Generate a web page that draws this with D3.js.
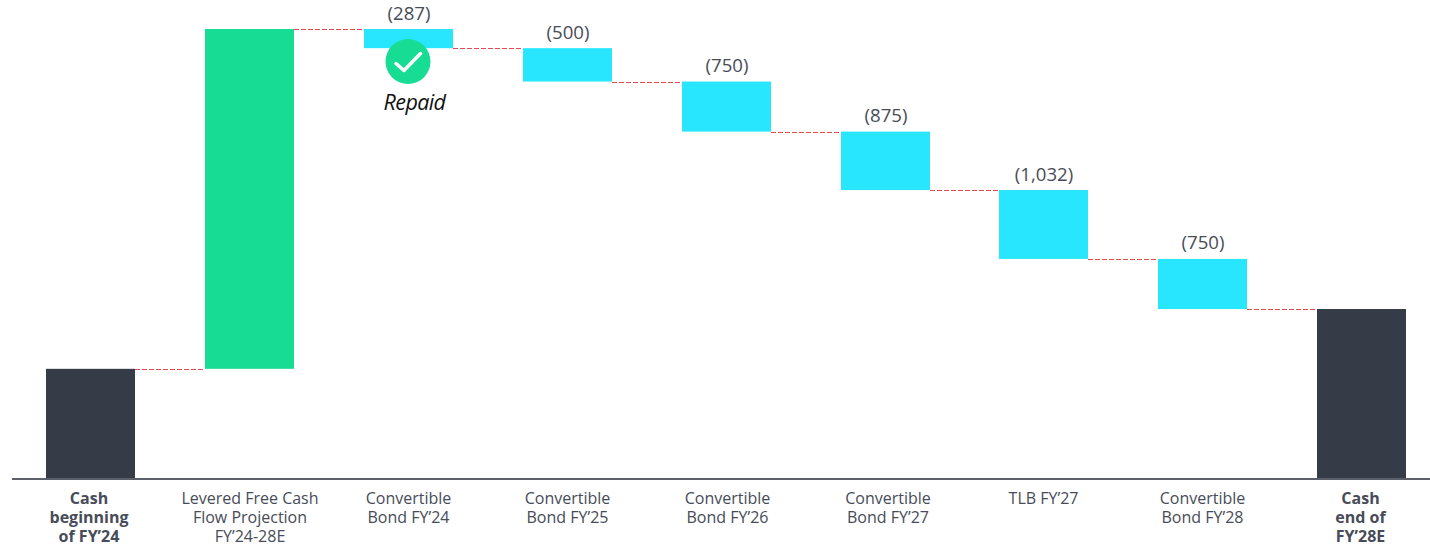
<!DOCTYPE html>
<html><head><meta charset="utf-8">
<script src="https://cdn.jsdelivr.net/npm/d3@7"></script>
<style>html,body{margin:0;padding:0;background:#fff;overflow:hidden}svg{display:block}text{font-family:"Open Sans",sans-serif}</style>
</head><body><svg id="c" width="1430" height="545"></svg>
<script>
const categories = [
  ["Cash","beginning","of FY’24"],
  ["Levered Free Cash","Flow Projection","FY’24-28E"],
  ["Convertible","Bond FY’24"],
  ["Convertible","Bond FY’25"],
  ["Convertible","Bond FY’26"],
  ["Convertible","Bond FY’27"],
  ["TLB FY’27"],
  ["Convertible","Bond FY’28"],
  ["Cash","end of","FY’28E"]
];
const deltas = [1650, 5090, -287, -500, -750, -875, -1032, -750, null];
const valueLabels = ["", "", "(287)", "(500)", "(750)", "(875)", "(1,032)", "(750)", ""];
const kinds = ["total", "up", "down", "down", "down", "down", "down", "down", "total"];
const boldCategories = [0, 8];
const colors = {total:"#353b47", up:"#16dd93", down:"#29e6ff"};
const repaidIndex = 2;

let run = 0;
const rows = deltas.map((d,i)=>{
  if (d === null) return {i, y0:0, y1:run};
  const r = kinds[i]==="total" ? {i,y0:0,y1:d} : {i,y0:run,y1:run+d};
  run = r.y1;
  return r;
});
const svg = d3.select("#c");
const x = d3.scaleBand().domain(d3.range(categories.length)).range([46.4,1406]).paddingInner(0.44).paddingOuter(0);
const y = d3.scaleLinear().domain([0,6740]).range([479,29]);
const bx0 = i => Math.round(x(i));
const bw = Math.round(x.bandwidth());
const labelNudge = i => [-1.5,0.5,0,0,1,2.5,0,0,-1][i];

// connectors
svg.append("g").selectAll("line").data(rows.slice(0,-1)).join("line")
  .attr("x1",d=>bx0(d.i)+bw)
  .attr("x2",d=>bx0(d.i+1))
  .attr("y1",d=>Math.round(y(d.y1))-0.5+1).attr("y2",d=>Math.round(y(d.y1))-0.5+1)
  .attr("stroke","#e04a52").attr("stroke-width",1).attr("stroke-dasharray","5 2");

// bars
svg.append("g").selectAll("rect").data(rows).join("rect")
  .attr("x",d=>bx0(d.i)).attr("width",bw)
  .attr("y",d=>y(Math.max(d.y0,d.y1)))
  .attr("height",d=>Math.abs(y(d.y0)-y(d.y1)))
  .attr("fill",d=>colors[kinds[d.i]]);

// baseline
svg.append("line").attr("x1",12).attr("x2",1430).attr("y1",y(0)).attr("y2",y(0))
  .attr("stroke","#5b606b").attr("stroke-width",2);

// category labels
const lab = svg.append("g").selectAll("text").data(categories).join("text")
  .attr("text-anchor","middle").attr("font-size",16)
  .attr("fill","#474c58")
  .attr("font-weight",(d,i)=>boldCategories.includes(i)?700:400);
lab.each(function(lines,i){
  d3.select(this).selectAll("tspan").data(lines).join("tspan")
    .attr("x",bx0(i)+bw/2+labelNudge(i))
    .attr("y",(l,j)=>504+j*19)
    .text(l=>l);
});

// value labels
svg.append("g").selectAll("text").data(rows.filter(d=>valueLabels[d.i])).join("text")
  .attr("text-anchor","middle").attr("font-size",18.6).attr("fill","#474c58")
  .attr("x",d=>bx0(d.i)+bw/2+0.5)
  .attr("y",d=>y(d.y0)-9.5)
  .text(d=>valueLabels[d.i]);

// repaid badge
const bx = bx0(repaidIndex)+bw/2-0.5, by = 61.5;
svg.append("circle").attr("cx",bx).attr("cy",by).attr("r",22.5).attr("fill",colors.up);
svg.append("path").attr("d",`M${bx-12},${by+2}L${bx-4},${by+9}L${bx+12.5},${by-8}`)
  .attr("fill","none").attr("stroke","#fff").attr("stroke-width",3.5).attr("stroke-linecap","round").attr("stroke-linejoin","round");
svg.append("text").attr("x",bx+6.5).attr("y",110).attr("text-anchor","middle")
  .attr("font-size",21.5).attr("font-style","italic").attr("fill","#111").attr("letter-spacing",-0.6).text("Repaid");
</script></body></html>
